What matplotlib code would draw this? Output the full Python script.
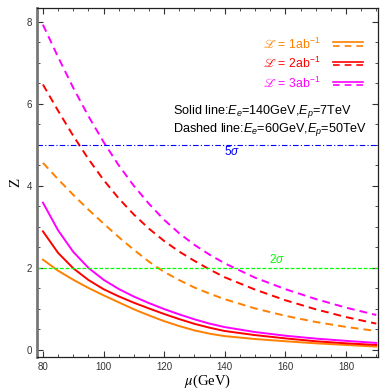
import matplotlib
matplotlib.use('Agg')
import matplotlib.pyplot as plt
from matplotlib.lines import Line2D
from matplotlib.legend_handler import HandlerBase
from matplotlib.ticker import MultipleLocator

plt.rcParams['font.family'] = ['Liberation Sans', 'DejaVu Sans']
plt.rcParams['mathtext.fontset'] = 'custom'
plt.rcParams['mathtext.rm'] = 'Liberation Sans'
plt.rcParams['mathtext.it'] = 'Liberation Sans:italic'
plt.rcParams['mathtext.fallback'] = 'stix'

# mu (GeV) grid and significance Z
mu = [80, 85, 90, 95, 100, 105, 110, 115, 120, 125, 130, 135, 140, 150, 160, 170, 180, 190]

# solid: Ee=140GeV, Ep=7TeV
z1_solid = [2.20, 1.93, 1.71, 1.51, 1.33, 1.16, 0.99, 0.84, 0.70, 0.58, 0.475, 0.395, 0.335, 0.265, 0.21, 0.16, 0.12, 0.08]
z2_solid = [2.89, 2.365, 1.99, 1.705, 1.48, 1.305, 1.15, 1.01, 0.875, 0.75, 0.635, 0.54, 0.46, 0.36, 0.28, 0.21, 0.16, 0.12]
z3_solid = [3.59, 2.915, 2.39, 2.00, 1.71, 1.485, 1.30, 1.14, 0.995, 0.865, 0.745, 0.64, 0.555, 0.435, 0.345, 0.275, 0.22, 0.17]

# dashed: Ee=60GeV, Ep=50TeV
z1_dashed = [4.56, 4.16, 3.78, 3.42, 3.08, 2.75, 2.44, 2.15, 1.90, 1.70, 1.52, 1.37, 1.235, 1.01, 0.83, 0.68, 0.56, 0.46]
z2_dashed = [6.47, 5.83, 5.22, 4.655, 4.145, 3.695, 3.30, 2.955, 2.655, 2.395, 2.17, 1.96, 1.77, 1.47, 1.21, 0.99, 0.80, 0.64]
z3_dashed = [7.93, 7.14, 6.39, 5.70, 5.07, 4.50, 4.00, 3.56, 3.17, 2.84, 2.56, 2.32, 2.11, 1.76, 1.48, 1.24, 1.03, 0.85]

lumi_labels = ['$\u2112$ = 1ab$^{-1}$', '$\u2112$ = 2ab$^{-1}$', '$\u2112$ = 3ab$^{-1}$']
colors = ['#ff8000', '#ff0000', '#ff00ff']
sig_levels = [5, 2]


class StackHandler(HandlerBase):
    # solid sample above dashed sample, like the original key
    def create_artists(self, legend, orig_handle, xdescent, ydescent, width, height, fontsize, trans):
        solid, dashed = orig_handle
        x0, x1 = -xdescent, -xdescent + width
        l1 = Line2D([x0, x1], [0.75 * height, 0.75 * height], color=solid.get_color(), lw=1.2, transform=trans)
        l2 = Line2D([x0, x1], [0.35 * height, 0.35 * height], color=dashed.get_color(), lw=1.2,
                    dashes=(4, 3), transform=trans)
        return [l1, l2]


fig = plt.figure(figsize=(3.8, 3.9), dpi=100)
ax = fig.add_axes([0.097, 0.085, 0.898, 0.895])

handles = []
for zs, zd, c in zip([z1_solid, z2_solid, z3_solid], [z1_dashed, z2_dashed, z3_dashed], colors):
    ls, = ax.plot(mu, zs, color=c, lw=1.4)
    ld, = ax.plot(mu, zd, color=c, lw=1.4, dashes=(4, 2.6))
    handles.append((ls, ld))

ax.axhline(sig_levels[0], color='#0000ff', lw=0.8, dashes=(5, 2, 1, 2))
ax.axhline(sig_levels[1], color='#00ff00', lw=0.9, dashes=(3, 1.5))
ax.text(142.4, 4.83, r'5$\sigma$', color='#0000ff', fontsize=8.5, ha='center', va='center')
ax.text(157.2, 2.2, r'2$\sigma$', color='#00ff00', fontsize=8.5, ha='center', va='center')

ax.text(0.399, 0.702, r'Solid line:$E_e$=140GeV,$E_p$=7TeV', transform=ax.transAxes,
        fontsize=9.1, va='center', ha='left')
ax.text(0.399, 0.650, r'Dashed line:$E_e$=60GeV,$E_p$=50TeV', transform=ax.transAxes,
        fontsize=9.1, va='center', ha='left')

leg = ax.legend(handles, lumi_labels, handler_map={tuple: StackHandler()}, loc='upper right',
                bbox_to_anchor=(0.955, 0.918), frameon=False, markerfirst=False, fontsize=8.8,
                handlelength=2.4, handletextpad=1.1, labelspacing=0.38, borderpad=0, borderaxespad=0)
for t, c in zip(leg.get_texts(), colors):
    t.set_color(c)

ax.set_xlim(78, 190.6)
ax.set_ylim(-0.17, 8.34)
ax.xaxis.set_major_locator(MultipleLocator(20))
ax.xaxis.set_minor_locator(MultipleLocator(5))
ax.yaxis.set_major_locator(MultipleLocator(2))
ax.yaxis.set_minor_locator(MultipleLocator(0.5))
ax.tick_params(which='both', direction='in', top=True, right=True, labelsize=7, colors='#333333')
ax.tick_params(which='major', length=4, width=0.8)
ax.tick_params(which='minor', length=2, width=0.6)
for s in ['top', 'bottom', 'right']:
    ax.spines[s].set_color('#222222')
    ax.spines[s].set_linewidth(0.9)
ax.spines['left'].set_color('#777777')
ax.spines['left'].set_linewidth(2)

ax.set_xlabel(r'$\mu$(GeV)', family='Liberation Serif', math_fontfamily='stix', fontsize=10.5, labelpad=1)
ax.set_ylabel('Z', family='Liberation Serif', fontsize=11, labelpad=3)

fig.savefig('out.png', dpi=100)
